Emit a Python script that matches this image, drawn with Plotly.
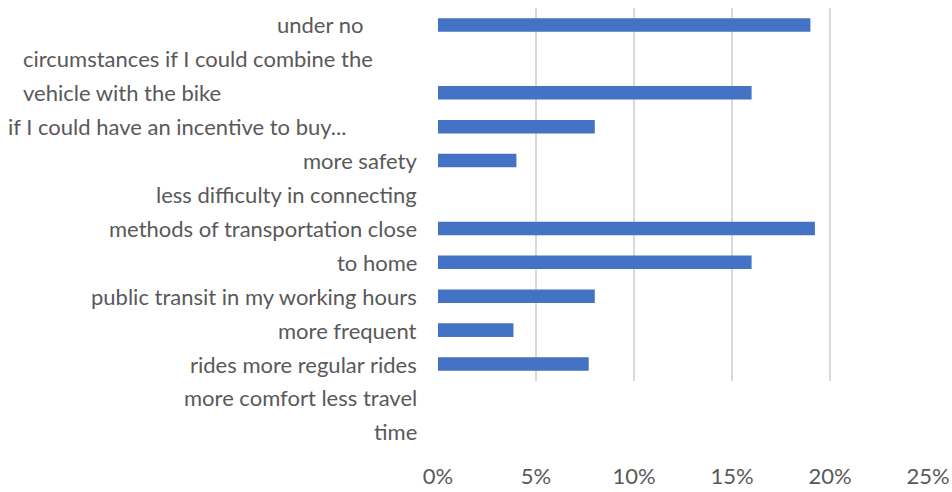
import plotly.graph_objects as go

# Wrapped category text, one entry per printed line
label_lines = [
    "under no",
    "circumstances if I could combine the",
    "vehicle with the bike",
    "if I could have an incentive to buy...",
    "more safety",
    "less difficulty in connecting",
    "methods of transportation close",
    "to home",
    "public transit in my working hours",
    "more frequent",
    "rides more regular rides",
    "more comfort less travel",
    "time",
]
# Horizontal alignment and offset (px from plot's left edge) of each printed line
line_anchor = ["right", "left", "left", "left"] + ["right"] * 9
line_offset = [-73, -417, -417, -432] + [-19] * 9

# One bar slot per plotted row (empty slots have no answer)
row_ids = [f"r{i}" for i in range(11)]
values = [0.19, None, 0.16, 0.08, 0.04, None, 0.1923, 0.16, 0.08, 0.0385, 0.0769]

tick_vals = [0, 0.05, 0.10, 0.15, 0.20, 0.25]
tick_text = ["0%", "5%", "10%", "15%", "20%", "25%"]

FONT = "Lato"
SIZE = 22
GREY = "#595959"
n_rows = len(row_ids)

fig = go.Figure(
    go.Bar(
        x=values,
        y=row_ids,
        orientation="h",
        marker=dict(color="#4472C4", line=dict(width=0)),
        hoverinfo="x",
    )
)

annotations = []
for k, text in enumerate(label_lines):
    annotations.append(
        dict(
            text=text,
            xref="paper",
            yref="paper",
            x=0,
            y=1 - (k + 0.5) / n_rows,
            xanchor=line_anchor[k],
            yanchor="middle",
            xshift=line_offset[k],
            showarrow=False,
            font=dict(family=FONT, size=SIZE, color=GREY),
        )
    )

fig.update_layout(
    width=952,
    height=492,
    margin=dict(l=438, r=24, t=8, b=111, autoexpand=False),
    paper_bgcolor="white",
    plot_bgcolor="white",
    bargap=0.6,
    showlegend=False,
    annotations=annotations,
    font=dict(family=FONT, size=SIZE, color=GREY),
    xaxis=dict(
        range=[0, 0.25],
        tickvals=tick_vals,
        ticktext=tick_text,
        showgrid=True,
        gridcolor="#d9d9d9",
        gridwidth=2,
        zeroline=False,
        showline=False,
        ticks="",
        ticklabelstandoff=80,
        automargin=False,
        tickfont=dict(family=FONT, size=SIZE, color=GREY),
        fixedrange=True,
    ),
    yaxis=dict(
        categoryorder="array",
        categoryarray=row_ids,
        autorange="reversed",
        showticklabels=False,
        showgrid=False,
        zeroline=False,
        showline=False,
        ticks="",
        automargin=False,
        fixedrange=True,
    ),
)

fig.write_html("out.html")
